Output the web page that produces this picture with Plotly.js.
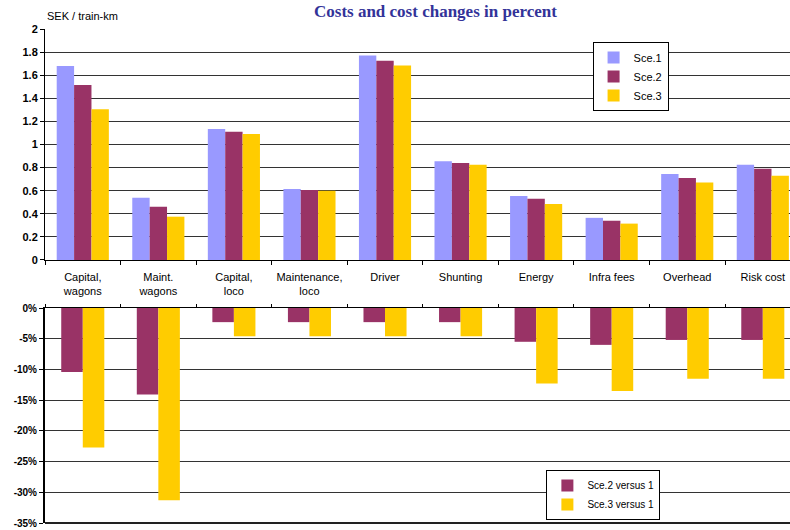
<!DOCTYPE html>
<html>
<head>
<meta charset="utf-8">
<script src="https://cdn.plot.ly/plotly-3.0.1.min.js"></script>
<style>html,body{margin:0;padding:0;background:#fff}#chart{width:790px;height:530px}</style>
</head>
<body>
<div id="chart"></div>
<script>
const categories = ["Capital,<br>wagons", "Maint.<br>wagons", "Capital,<br>loco", "Maintenance,<br>loco", "Driver", "Shunting", "Energy", "Infra fees", "Overhead", "Risk cost"];
const sce1 = [1.68, 0.54, 1.135, 0.615, 1.77, 0.855, 0.555, 0.365, 0.745, 0.825];
const sce2 = [1.515, 0.46, 1.11, 0.605, 1.725, 0.84, 0.53, 0.34, 0.71, 0.79];
const sce3 = [1.305, 0.375, 1.09, 0.6, 1.685, 0.825, 0.485, 0.315, 0.67, 0.73];
const chg2 = [-10.4, -14.1, -2.3, -2.3, -2.3, -2.3, -5.5, -6.0, -5.2, -5.2];
const chg3 = [-22.7, -31.3, -4.6, -4.6, -4.6, -4.6, -12.3, -13.5, -11.5, -11.5];
const pctTickVals = [0, -5, -10, -15, -20, -25, -30, -35];
const pctTickText = ["0%", "-5%", "-10%", "-15%", "-20%", "-25%", "-30%", "-35%"];

const C1 = "#9999FF", C2 = "#993366", C3 = "#FFCC00";
const FONT = "Arial, 'Liberation Sans', sans-serif";

const traces = [
  {type: "bar", name: "Sce.1", x: categories, y: sce1, marker: {color: C1}, width: 0.23, offset: -0.345, xaxis: "x", yaxis: "y", legend: "legend"},
  {type: "bar", name: "Sce.2", x: categories, y: sce2, marker: {color: C2}, width: 0.23, offset: -0.115, xaxis: "x", yaxis: "y", legend: "legend"},
  {type: "bar", name: "Sce.3", x: categories, y: sce3, marker: {color: C3}, width: 0.23, offset: 0.115, xaxis: "x", yaxis: "y", legend: "legend"},
  {type: "bar", name: "Sce.2 versus 1", x: categories, y: chg2, marker: {color: C2}, width: 0.285, offset: -0.285, xaxis: "x2", yaxis: "y2", legend: "legend2"},
  {type: "bar", name: "Sce.3 versus 1", x: categories, y: chg3, marker: {color: C3}, width: 0.285, offset: 0, xaxis: "x2", yaxis: "y2", legend: "legend2"}
];

const layout = {
  width: 790, height: 530,
  margin: {l: 45, r: 0, t: 29, b: 7, pad: 0},
  paper_bgcolor: "#fff", plot_bgcolor: "#fff",
  barmode: "overlay",
  font: {family: FONT, size: 11, color: "#000"},
  xaxis: {
    type: "category", range: [-0.5, 9.36], anchor: "y",
    showline: true, linecolor: "#000", linewidth: 1,
    ticks: "outside", tickson: "boundaries", ticklen: 4, tickcolor: "#000",
    ticklabelstandoff: 7,
    tickfont: {family: FONT, size: 11, color: "#000"},
    showgrid: false, fixedrange: true
  },
  yaxis: {
    domain: [0.5324, 1], range: [0, 2], dtick: 0.2, anchor: "x",
    showline: true, linecolor: "#000", linewidth: 1,
    ticks: "outside", ticklen: 4, tickcolor: "#000",
    tickfont: {family: FONT, size: 11, color: "#000", weight: "bold"},
    showgrid: true, gridcolor: "#333", gridwidth: 1, zeroline: false
  },
  xaxis2: {
    type: "category", range: [-0.5, 9.36], anchor: "y2", side: "top",
    showline: true, linecolor: "#000", linewidth: 1,
    ticks: "outside", tickson: "boundaries", ticklen: 3, tickcolor: "#000",
    showticklabels: false, showgrid: false
  },
  yaxis2: {
    domain: [0, 0.4352], range: [-35, 0], anchor: "x2",
    tickvals: pctTickVals, ticktext: pctTickText,
    showline: true, linecolor: "#000", linewidth: 2,
    ticks: "outside", ticklen: 4, tickcolor: "#000",
    tickfont: {family: FONT, size: 10, color: "#000", weight: "bold"},
    showgrid: true, gridcolor: "#333", gridwidth: 1,
    zeroline: false
  },
  shapes: [
    {type: "line", xref: "x2 domain", yref: "y2 domain", x0: 0, x1: 1, y0: 0, y1: 0,
     line: {color: "#222", width: 2}}
  ],
  legend: {
    x: 0.735, y: 0.9737, xanchor: "left", yanchor: "top",
    bgcolor: "#fff", bordercolor: "#000", borderwidth: 1,
    font: {family: FONT, size: 11, color: "#000"}, itemwidth: 30, tracegroupgap: 0
  },
  legend2: {
    x: 0.673, y: 0.1073, xanchor: "left", yanchor: "top",
    bgcolor: "#fff", bordercolor: "#000", borderwidth: 1,
    font: {family: FONT, size: 10, color: "#000"}, itemwidth: 30, tracegroupgap: 0
  },
  showlegend: true,
  annotations: [
    {text: "<b>Costs and cost changes in percent</b>", xref: "paper", yref: "paper", x: 0.5235, y: 1.0364,
     xanchor: "center", yanchor: "middle", showarrow: false,
     font: {family: "'Liberation Serif', 'Times New Roman', serif", size: 17, color: "#333399"}},
    {text: "SEK / train-km", xref: "paper", yref: "paper", x: 0, y: 1.0263,
     xanchor: "left", yanchor: "middle", showarrow: false,
     font: {family: FONT, size: 11, color: "#000"}}
  ]
};

Plotly.newPlot("chart", traces, layout, {displayModeBar: false, staticPlot: true});
</script>
</body>
</html>
